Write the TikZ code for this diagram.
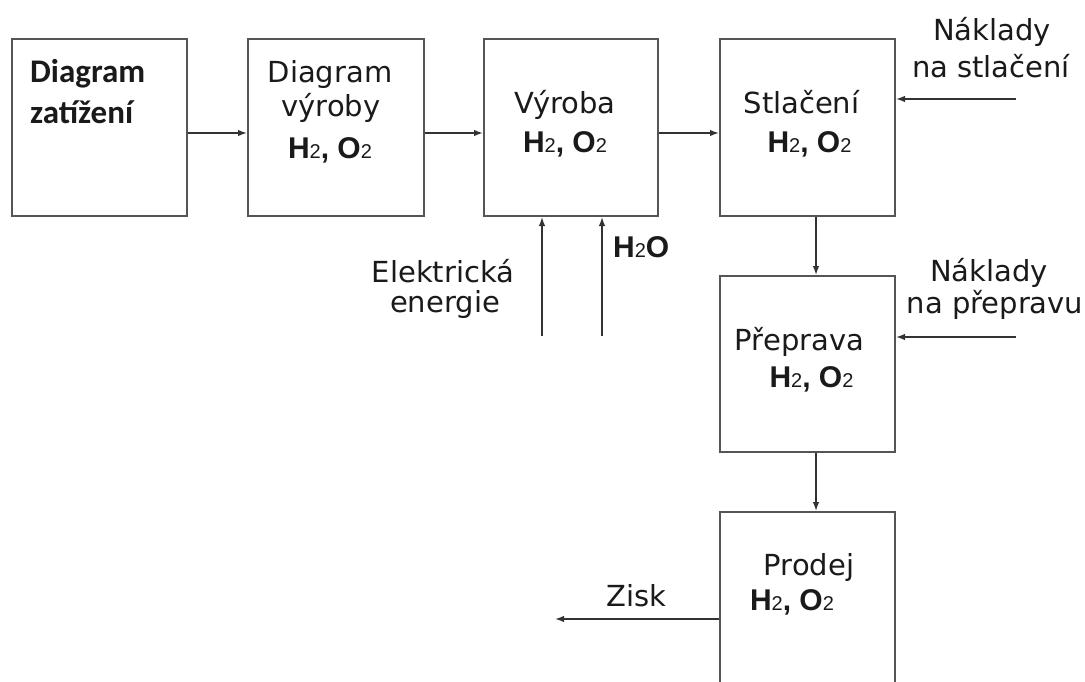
\documentclass[tikz,border=0pt]{standalone}
\usepackage{fontspec}
\setmainfont{DejaVu Sans}
\newfontfamily\calibfont{Carlito}
\newfontfamily\arialfont{Liberation Sans}
\usetikzlibrary{arrows.meta}
\newcommand\subtwo{{\mdseries\fontsize{20}{24}\selectfont 2}}
\newcommand\hhoo{{\arialfont\bfseries\fontsize{30}{36}\selectfont H\subtwo, O\subtwo}}
\newcommand\hho{{\arialfont\bfseries\fontsize{30}{36}\selectfont H\subtwo O}}
\definecolor{boxline}{HTML}{555555}
\definecolor{arrline}{HTML}{333333}
\definecolor{txt}{HTML}{1A1A1A}
\tikzset{
  blk/.style={draw=boxline, line width=2pt, minimum width=175pt, minimum height=177pt, inner sep=0pt},
  arr/.style={draw=arrline, line width=1.4pt, -{Latex[length=9pt,width=6.5pt]}},
  lbl/.style={inner sep=0pt, anchor=base, text=txt, font=\fontsize{29}{35}\selectfont},
  blbl/.style={inner sep=0pt, anchor=base west, text=txt, font=\calibfont\bfseries\fontsize{33}{40}\selectfont},
  chem/.style={inner sep=0pt, anchor=base, text=txt}
}
\begin{document}
\begin{tikzpicture}[x=1pt,y=-1pt]
\useasboundingbox (0,0) rectangle (1085,682);
\fill[white] (0,0) rectangle (1085,682);
% boxes
\node[blk] (b1) at (99.5,127.5) {};
\node[blk, minimum width=176pt] (b2) at (336,127.5) {};
\node[blk, minimum width=174pt] (b3) at (571,127.5) {};
\node[blk] (b4) at (807.5,127.5) {};
\node[blk, minimum height=176pt] (b5) at (807.5,364) {};
\node[blk] (b6) at (807.5,600.5) {};
% texts
\node[blbl] (t1a) at (30,83) {Diagram};
\node[blbl] (t1b) at (30,124) {zatížení};
\node[lbl] (t2a) at (330,83) {Diagram};
\node[lbl] (t2b) at (331,117) {výroby};
\node[chem] (t2c) at (330,159) {\hhoo};
\node[lbl] (t3a) at (565,114) {Výroba};
\node[chem] (t3b) at (565,153) {\hhoo};
\node[lbl] (t4a) at (801.5,114) {Stlačení};
\node[chem] (t4b) at (809.5,153) {\hhoo};
\node[lbl] (t5a) at (799.5,350) {Přeprava};
\node[chem] (t5b) at (811.5,387) {\hhoo};
\node[lbl] (t6a) at (809,575) {Prodej};
\node[chem] (t6b) at (792,610) {\hhoo};
\node[lbl] (zisk) at (636.5,606) {Zisk};
\node[lbl] (n1a) at (992,41) {Náklady};
\node[lbl] (n1b) at (991,78) {na stlačení};
\node[lbl] (n2a) at (989,281) {Náklady};
\node[lbl] (n2b) at (995,313) {na přepravu};
\node[lbl] (el1) at (443,282) {Elektrická};
\node[lbl] (el2) at (445,312) {energie};
\node[chem, anchor=base west] (h2o) at (613,257) {\hho};
% connectors
\coordinate (row) at (0,133);
\draw[arr] (b1.east |- row) -- (b2.west |- row);
\draw[arr] (b2.east |- row) -- (b3.west |- row);
\draw[arr] (b3.east |- row) -- (b4.west |- row);
\coordinate (col) at (816,0);
\draw[arr] (b4.south -| col) -- (b5.north -| col);
\draw[arr] (b5.south -| col) -- (b6.north -| col);
\coordinate (q1) at (1016,99);
\draw[arr] (q1) -- (b4.east |- q1);
\coordinate (q2) at (1016,337);
\draw[arr] (q2) -- (b5.east |- q2);
\coordinate (zend) at (555,619);
\draw[arr] (b6.west |- zend) -- (zend);
\coordinate (e1) at (542,336);
\coordinate (w1) at (602,336);
\draw[arr] (e1) -- (b3.south -| e1);
\draw[arr] (w1) -- (b3.south -| w1);
\end{tikzpicture}
\end{document}
